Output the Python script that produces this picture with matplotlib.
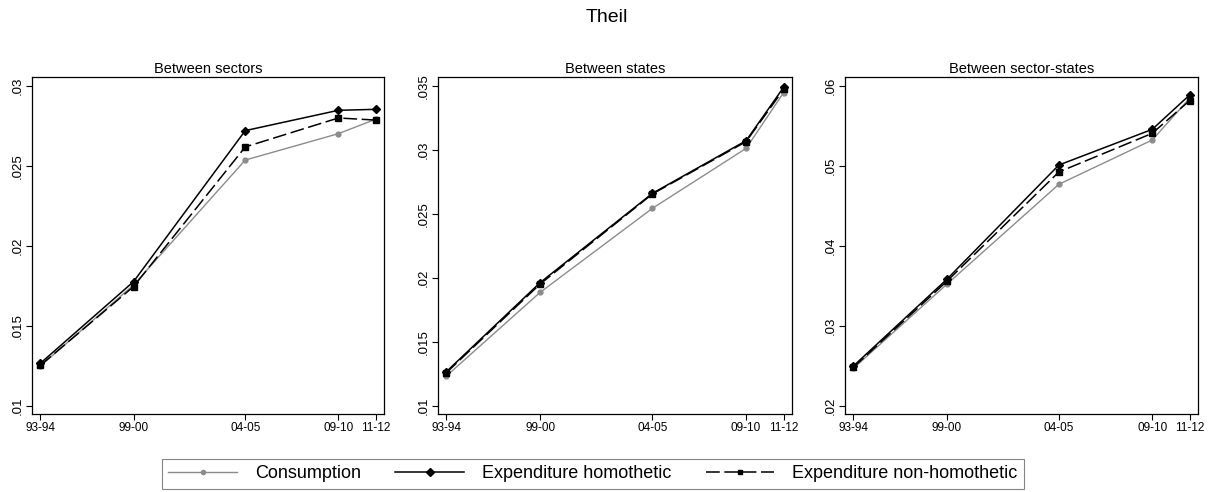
import matplotlib
matplotlib.use("Agg")
import matplotlib.pyplot as plt
import numpy as np

plt.rcParams['font.family'] = ['Liberation Sans', 'DejaVu Sans']

# NSS rounds, used as x positions
rounds = [50, 55, 61, 66, 68]
round_labels = ["93-94", "99-00", "04-05", "09-10", "11-12"]

titles = ["Between sectors", "Between states", "Between sector-states"]

# Between sectors
cons_sec = [0.01248, 0.01754, 0.02535, 0.02700, 0.02790]
homo_sec = [0.01265, 0.01775, 0.02719, 0.02846, 0.02852]
nonh_sec = [0.01252, 0.01744, 0.02617, 0.02798, 0.02785]

# Between states
cons_st = [0.01232, 0.01885, 0.02542, 0.03010, 0.03445]
homo_st = [0.01266, 0.01961, 0.02659, 0.03070, 0.03487]
nonh_st = [0.01258, 0.01950, 0.02654, 0.03063, 0.03471]

# Between sector-states
cons_ss = [0.02467, 0.03517, 0.04767, 0.05321, 0.05842]
homo_ss = [0.02496, 0.03579, 0.05008, 0.05454, 0.05883]
nonh_ss = [0.02479, 0.03554, 0.04921, 0.05404, 0.05813]

yticks_sec = [0.01, 0.015, 0.02, 0.025, 0.03]
yticks_st = [0.01, 0.015, 0.02, 0.025, 0.03, 0.035]
yticks_ss = [0.02, 0.03, 0.04, 0.05, 0.06]
ytlab_sec = [".01", ".015", ".02", ".025", ".03"]
ytlab_st = [".01", ".015", ".02", ".025", ".03", ".035"]
ytlab_ss = [".02", ".03", ".04", ".05", ".06"]

panels = [
    (cons_sec, homo_sec, nonh_sec, yticks_sec, ytlab_sec),
    (cons_st, homo_st, nonh_st, yticks_st, ytlab_st),
    (cons_ss, homo_ss, nonh_ss, yticks_ss, ytlab_ss),
]

W, H = 1214, 492
fig = plt.figure(figsize=(W / 100, H / 100), dpi=100)
fig.patch.set_facecolor('white')

lefts = [32, 438, 845]
widths = [352, 354, 353]
top, bottom = 76.7, 414

handles = None
for i, (c, h, n, yt, ytl) in enumerate(panels):
    ax = fig.add_axes([lefts[i] / W, (H - bottom) / H, widths[i] / W, (bottom - top) / H])
    l1, = ax.plot(rounds, c, color='#8c8c8c', lw=1.0, marker='o', ms=3.5, label='Consumption')
    l2, = ax.plot(rounds, h, color='black', lw=1.1, marker='D', ms=4.5, label='Expenditure homothetic')
    l3, = ax.plot(rounds, n, color='black', lw=1.1, marker='s', ms=4, dashes=(9, 3),
                  label='Expenditure non-homothetic')
    handles = [l1, l2, l3]
    lo, hi = yt[0], yt[-1]
    r = hi - lo
    ax.set_ylim(lo - 0.026 * r, hi + 0.028 * r)
    ax.set_xlim(49.55, 68.45)
    ax.set_yticks(yt)
    ax.set_yticklabels(ytl, rotation=90, va='center', fontsize=9.5)
    ax.set_xticks(rounds)
    ax.set_xticklabels(round_labels, fontsize=8.5)
    ax.tick_params(length=4, width=0.8, pad=2)
    for s in ax.spines.values():
        s.set_linewidth(0.9)
    ax.set_title(titles[i], fontsize=10.5, pad=3)

fig.text(0.5, 1 - 18 / H, "Theil", ha='center', va='center', fontsize=14)

leg = fig.legend(handles, [hd.get_label() for hd in handles], loc='center',
                 bbox_to_anchor=(593 / W, 1 - 474 / H), ncol=3, fontsize=13,
                 frameon=True, fancybox=False, handlelength=3.8, columnspacing=1.9,
                 borderpad=0.35, handletextpad=1.0, markerscale=0.85)
leg.get_frame().set_edgecolor('#666666')
leg.get_frame().set_linewidth(0.8)

fig.savefig('out.png', dpi=100)
